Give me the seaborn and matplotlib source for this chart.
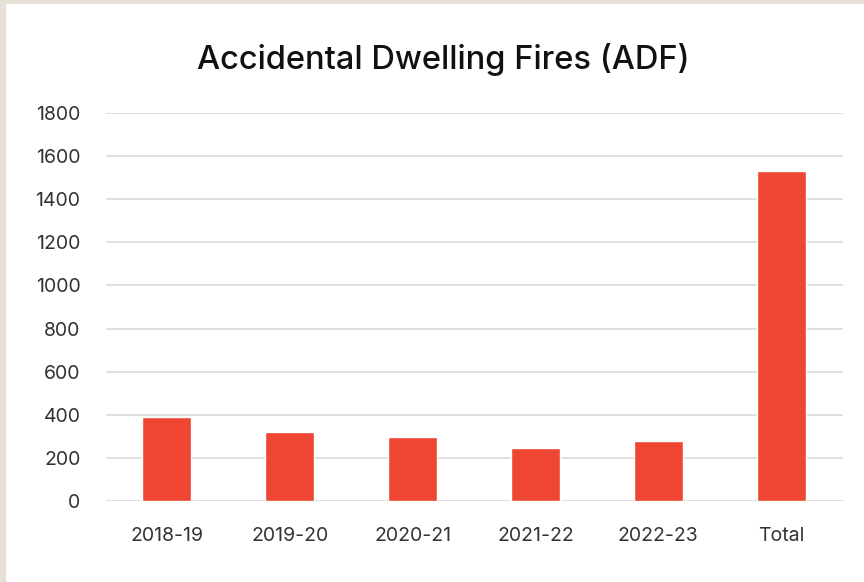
import matplotlib
matplotlib.use('Agg')
import matplotlib.pyplot as plt
import seaborn as sns
import pandas as pd
from matplotlib.patches import Rectangle

# Data
years = ['2018-19', '2019-20', '2020-21', '2021-22', '2022-23', 'Total']
fires = [392, 318, 296, 248, 277, 1532]
y_ticks = [0, 200, 400, 600, 800, 1000, 1200, 1400, 1600, 1800]

df = pd.DataFrame({'year': years, 'fires': fires})

sns.set_theme(style='white')
plt.rcParams['font.family'] = ['Inter', 'DejaVu Sans']

fig = plt.figure(figsize=(8.64, 5.82), dpi=100, facecolor='white')

# beige frame strips at the top and left edge
fig.patches.append(Rectangle((0, 0), 5 / 864, 1, transform=fig.transFigure,
                             color='#E6E1D6', zorder=0))
fig.patches.append(Rectangle((0, 1 - 3 / 582), 1, 3 / 582, transform=fig.transFigure,
                             color='#E6E1D6', zorder=0))

ax = fig.add_axes([105.5 / 864, 1 - 501 / 582, 737 / 864, 388 / 582])
sns.barplot(data=df, x='year', y='fires', color='#EE4632', width=0.4,
            saturation=1, ax=ax, zorder=3)

ax.set_ylim(0, 1800)
ax.set_yticks(y_ticks)
ax.yaxis.grid(True, color='#DADADA', linewidth=1.2, zorder=0)
ax.set_axisbelow(True)
sns.despine(ax=ax, left=True, bottom=True, top=True, right=True)
ax.set_xlabel('')
ax.set_ylabel('')
ax.tick_params(axis='both', length=0, labelsize=14, colors='#333333')
ax.tick_params(axis='y', pad=18)
ax.tick_params(axis='x', pad=19)

fig.text(443 / 864, 1 - 60 / 582, 'Accidental Dwelling Fires (ADF)',
         ha='center', va='center', fontsize=23.5, fontweight='medium', color='#111111')

fig.savefig('out.png', dpi=100, facecolor='white')
